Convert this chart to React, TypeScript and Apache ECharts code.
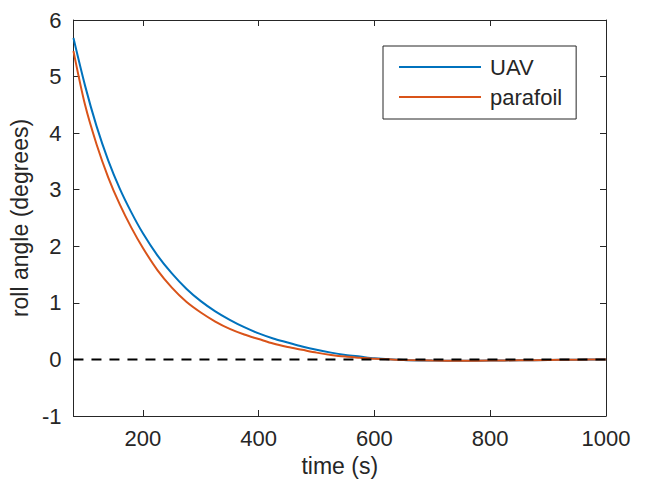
import React, { useEffect, useRef } from "react";
import * as echarts from "echarts";

const times = [80, 100, 120, 140, 160, 180, 200, 225, 250, 275, 300, 325, 350, 375, 400, 425, 450, 475, 500, 525, 550, 575, 600, 650, 700, 750, 800, 850, 900, 950, 1000];
const uav = [5.68, 4.84, 4.12, 3.52, 3.02, 2.6, 2.23, 1.84, 1.52, 1.25, 1.03, 0.85, 0.7, 0.57, 0.46, 0.37, 0.3, 0.23, 0.17, 0.12, 0.08, 0.05, 0.02, -0.01, -0.02, -0.025, -0.02, -0.015, -0.01, -0.005, 0];
const parafoil = [5.45, 4.5, 3.8, 3.22, 2.74, 2.33, 1.97, 1.58, 1.27, 1.02, 0.83, 0.67, 0.54, 0.44, 0.36, 0.28, 0.22, 0.17, 0.12, 0.08, 0.05, 0.03, 0.01, -0.01, -0.02, -0.025, -0.02, -0.015, -0.01, -0.005, 0];
const xTicks = [200, 400, 600, 800, 1000];
const zeroLine = [[80, 0], [1000, 0]];

const FONT = "Liberation Sans, Arial, sans-serif";
const INK = "#262626";

export default function App() {
  const ref = useRef<HTMLDivElement>(null);
  useEffect(() => {
    if (!ref.current) return;
    const chart = echarts.init(ref.current, undefined, { renderer: "svg" });
    const axisLine = { show: true, onZero: false, lineStyle: { color: INK, width: 1 } };
    chart.setOption({
      animation: false,
      backgroundColor: "#fff",
      grid: { left: 72, right: 39, top: 20, bottom: 73, show: false },
      legend: {
        data: ["UAV", "parafoil"],
        orient: "vertical",
        left: 383,
        top: 46,
        backgroundColor: "#fff",
        borderColor: INK,
        borderWidth: 1,
        borderRadius: 0,
        padding: [9, 14, 10, 16],
        icon: "rect",
        itemWidth: 82,
        itemHeight: 2,
        itemGap: 6,
        textStyle: { fontFamily: FONT, fontSize: 22, color: INK, lineHeight: 24, padding: [0, 0, 0, 4] },
      },
      xAxis: [
        {
          type: "value",
          min: 80,
          max: 1000,
          position: "bottom",
          name: "time (s)",
          nameLocation: "middle",
          nameGap: 38,
          nameTextStyle: { fontFamily: FONT, fontSize: 23, color: INK },
          axisLine,
          axisTick: { show: true, inside: true, length: 6, customValues: xTicks, lineStyle: { color: INK } },
          axisLabel: { show: true, customValues: xTicks, margin: 11, fontFamily: FONT, fontSize: 22, color: INK, formatter: (v: number) => String(v) },
          splitLine: { show: false },
        },
        {
          type: "value",
          min: 80,
          max: 1000,
          position: "top",
          axisLine,
          axisTick: { show: true, inside: true, length: 6, customValues: xTicks, lineStyle: { color: INK } },
          axisLabel: { show: false },
          splitLine: { show: false },
        },
      ],
      yAxis: [
        {
          type: "value",
          min: -1,
          max: 6,
          interval: 1,
          position: "left",
          name: "roll angle (degrees)",
          nameLocation: "middle",
          nameGap: 38,
          nameTextStyle: { fontFamily: FONT, fontSize: 23, color: INK },
          axisLine,
          axisTick: { show: true, inside: true, length: 6, lineStyle: { color: INK } },
          axisLabel: { margin: 12, fontFamily: FONT, fontSize: 22, color: INK },
          splitLine: { show: false },
        },
        {
          type: "value",
          min: -1,
          max: 6,
          interval: 1,
          position: "right",
          axisLine,
          axisTick: { show: true, inside: true, length: 6, lineStyle: { color: INK } },
          axisLabel: { show: false },
          splitLine: { show: false },
        },
      ],
      series: [
        {
          name: "UAV",
          type: "line",
          data: times.map((t, i) => [t, uav[i]]),
          smooth: 0.3,
          symbol: "none",
          lineStyle: { color: "#0072BD", width: 2 },
          itemStyle: { color: "#0072BD" },
        },
        {
          name: "parafoil",
          type: "line",
          data: times.map((t, i) => [t, parafoil[i]]),
          smooth: 0.3,
          symbol: "none",
          lineStyle: { color: "#D95319", width: 2 },
          itemStyle: { color: "#D95319" },
        },
        {
          name: "zero",
          type: "line",
          data: zeroLine,
          symbol: "none",
          lineStyle: { color: "#000", width: 2, type: [10, 8] },
          z: 5,
        },
      ],
    });
    return () => chart.dispose();
  }, []);
  return <div ref={ref} style={{ width: 645, height: 489, position: "absolute", left: 0, top: 0 }} />;
}
